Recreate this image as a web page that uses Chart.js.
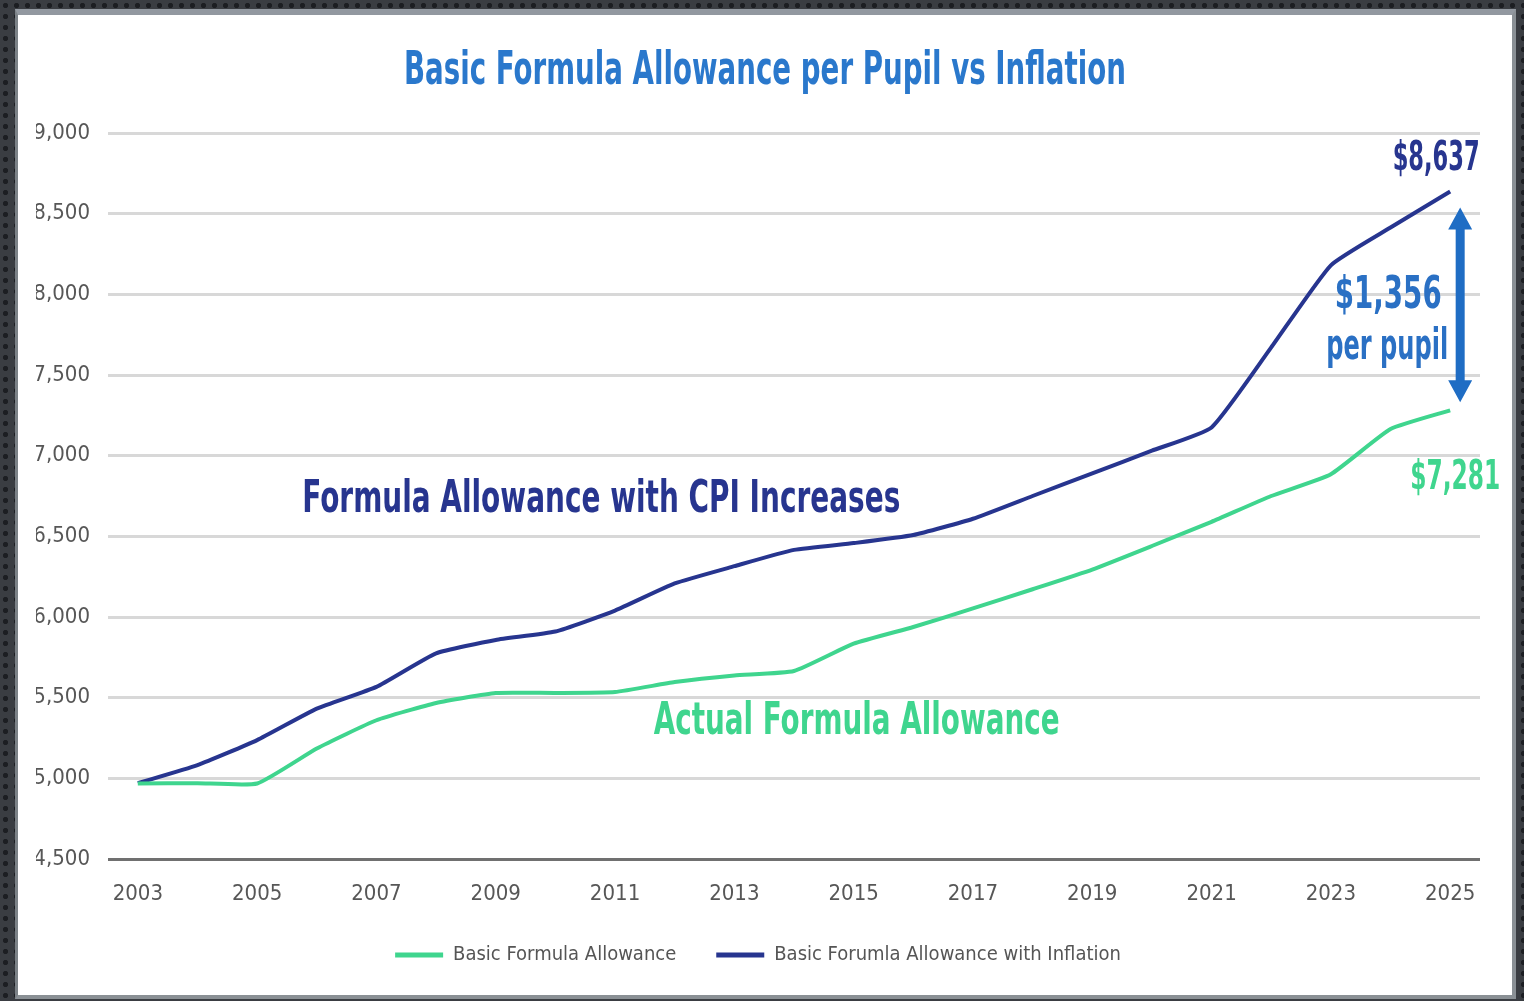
<!DOCTYPE html>
<html>
<head>
<meta charset="utf-8">
<title>Basic Formula Allowance per Pupil vs Inflation</title>
<script src="https://cdn.jsdelivr.net/npm/chart.js@4.4.1/dist/chart.umd.min.js"></script>
<style>
  html, body { margin: 0; padding: 0; }
  body {
    width: 1524px;
    height: 1001px;
    overflow: hidden;
    background-color: #3a3d42;
    background-image: radial-gradient(circle, #1c1e22 2.2px, transparent 3px);
    background-size: 11px 11px;
  }
  #panel {
    position: absolute;
    left: 15px; top: 9px;
    width: 1501px; height: 990px;
    box-sizing: border-box;
    background: #fff;
    border-left: 3px solid #7c8287;
    border-right: 4px solid #8a9095;
    border-bottom: 4px solid #8a9095;
    border-top: 6px solid #9298a0;
  }
  #chart { position: absolute; left: 0; top: 12px; }
</style>
</head>
<body>
<div id="panel"></div>
<canvas id="chart" width="1510" height="982"></canvas>
<script>
// per-pupil allowance, school years 2003-2025
const years = ['2003', '2004', '2005', '2006', '2007', '2008', '2009', '2010', '2011', '2012', '2013', '2014',
               '2015', '2016', '2017', '2018', '2019', '2020', '2021', '2022', '2023', '2024', '2025'];
const basicAllowance = [4968, 4970, 4968, 5185, 5360, 5467, 5529, 5529, 5535, 5597, 5638, 5665,
                        5835, 5938, 6053, 6172, 6294, 6440, 6590, 6750, 6885, 7165, 7281];
const withInflation = [4970, 5082, 5237, 5432, 5567, 5775, 5858, 5910, 6040, 6208, 6315, 6416,
                       6458, 6508, 6609, 6750, 6890, 7031, 7175, 7671, 8180, 8414, 8637];
const yMin = 4500, yMax = 9000, yStep = 500;

const GREEN = '#3fd58e';
const NAVY = '#27358f';
const BLUE = '#2a78cc';
const NARROW = "'Liberation Sans Narrow', 'DejaVu Sans Condensed', 'Liberation Sans', sans-serif";

const money = v => '$' + v.toLocaleString('en-US');

// draw bold text squeezed/stretched to a given width, centred on (cx, cy)
function fitText(ctx, text, cx, cy, width, size, color) {
  ctx.save();
  ctx.font = 'bold ' + size + 'px ' + NARROW;
  const w = ctx.measureText(text).width;
  ctx.translate(cx, cy);
  ctx.scale(width / w, 1);
  ctx.fillStyle = color;
  ctx.textAlign = 'center';
  ctx.textBaseline = 'middle';
  ctx.fillText(text, 0, 0);
  ctx.restore();
}

const callouts = {
  id: 'callouts',
  afterDatasetsDraw(chart) {
    const { ctx, scales: { x, y } } = chart;
    const last = years.length - 1;
    const xEnd = x.getPixelForValue(last);
    const yTop = y.getPixelForValue(withInflation[last]);
    const yLow = y.getPixelForValue(basicAllowance[last]);
    const gap = withInflation[last] - basicAllowance[last];

    fitText(ctx, 'Basic Formula Allowance per Pupil vs Inflation', 765, 60, 722, 46, BLUE);

    fitText(ctx, 'Formula Allowance with CPI Increases',
            x.getPixelForValue(7.77), y.getPixelForValue(6720), 598, 44, NAVY);
    fitText(ctx, 'Actual Formula Allowance',
            x.getPixelForValue(12.05), y.getPixelForValue(5345), 406, 44, GREEN);

    fitText(ctx, money(withInflation[last]), xEnd - 14, yTop - 32, 87, 40, NAVY);
    fitText(ctx, money(basicAllowance[last]), xEnd + 5, yLow + 68, 90, 40, GREEN);

    const mid = (yTop + yLow) / 2;
    fitText(ctx, money(gap), xEnd - 62, mid - 4, 107, 44, '#2a70c4');
    fitText(ctx, 'per pupil', xEnd - 63, mid + 47, 122, 42, '#2a70c4');

    // double-headed arrow between the two end values
    const ax = xEnd + 10, a0 = yTop + 16, a1 = yLow - 8, head = 22, half = 12;
    ctx.save();
    ctx.fillStyle = '#1f6dc4';
    ctx.fillRect(ax - 4.5, a0 + head - 2, 9, a1 - a0 - 2 * head + 4);
    ctx.beginPath();
    ctx.moveTo(ax, a0);
    ctx.lineTo(ax + half, a0 + head);
    ctx.lineTo(ax - half, a0 + head);
    ctx.closePath();
    ctx.moveTo(ax, a1);
    ctx.lineTo(ax + half, a1 - head);
    ctx.lineTo(ax - half, a1 - head);
    ctx.closePath();
    ctx.fill();
    ctx.restore();
  }
};

const ctx = document.getElementById('chart').getContext('2d');
const allowanceChart = new Chart(ctx, {
  type: 'line',
  data: {
    labels: years,
    datasets: [{
      label: 'Basic Formula Allowance',
      data: basicAllowance,
      borderColor: GREEN,
      backgroundColor: GREEN,
      borderWidth: 4,
      pointRadius: 0,
      tension: 0.15
    }, {
      label: 'Basic Forumla Allowance with Inflation',
      data: withInflation,
      borderColor: NAVY,
      backgroundColor: NAVY,
      borderWidth: 4,
      pointRadius: 0,
      tension: 0.15
    }]
  },
  options: {
    responsive: false,
    animation: false,
    layout: { padding: { left: 36, right: 30, top: 121, bottom: 19 } },
    plugins: {
      tooltip: { enabled: false },
      legend: {
        position: 'bottom',
        labels: {
          color: '#555',
          font: { family: NARROW, size: 20 },
          boxWidth: 48,
          boxHeight: 5,
          padding: 40,
          generateLabels: chart =>
            Chart.defaults.plugins.legend.labels.generateLabels(chart).map(item => ({ ...item, lineWidth: 0 }))
        }
      }
    },
    scales: {
      x: {
        offset: true,
        grid: { display: false, drawTicks: false },
        border: { display: false },
        ticks: {
          autoSkip: false,
          maxRotation: 0,
          padding: 22,
          color: '#575757',
          font: { family: NARROW, size: 22 },
          callback: (v, i) => (i % 2 === 0 ? years[i] : '')
        },
        afterFit: scale => { scale.height = 46; }
      },
      y: {
        min: yMin,
        max: yMax,
        ticks: {
          stepSize: yStep,
          padding: 18,
          color: '#575757',
          font: { family: NARROW, size: 22 },
          callback: v => v.toLocaleString('en-US')
        },
        grid: {
          drawTicks: false,
          lineWidth: 3,
          color: c => (c.tick && c.tick.value === yMin ? '#707070' : '#d8d8d8')
        },
        border: { display: false },
        afterFit: scale => { scale.width = 72; }
      }
    }
  },
  plugins: [callouts]
});
</script>
</body>
</html>
